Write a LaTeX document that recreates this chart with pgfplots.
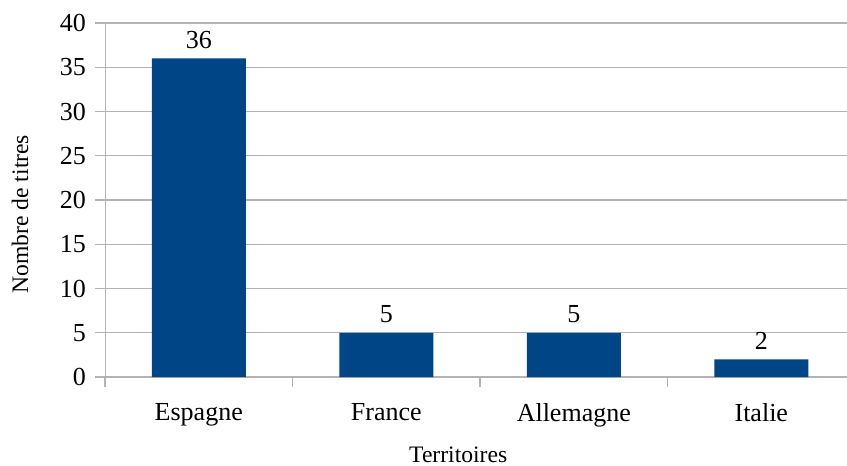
\documentclass[border=0pt]{standalone}
\usepackage{fontspec}
\setmainfont{Liberation Serif}
\usepackage{pgfplots}
\pgfplotsset{compat=1.18}
\definecolor{barblue}{HTML}{004586}
\definecolor{gridgray}{HTML}{B3B3B3}

\begin{document}
\begin{tikzpicture}
\begin{axis}[
    name=ax,
    at={(0,0)}, anchor=south west,
    scale only axis,
    width=371pt, height=177pt,
    xmin=-0.5, xmax=3.457,
    ymin=0, ymax=40,
    ytick={0,5,...,40},
    xtick={0,1,2,3},
    xticklabels={Espagne,France,Allemagne,Italie},
    minor xtick={-0.5,0.5,1.5,2.5},
    axis lines=left,
    axis line style={gridgray, -},
    ymajorgrids,
    grid style={gridgray, line width=0.6pt},
    major tick length=5pt, minor tick length=5pt,
    tick align=outside,
    tick style={gridgray, line width=0.6pt},
    xtick style={draw=none},
    minor x tick style={draw=gridgray},
    ticklabel style={font=\fontsize{13}{15}\selectfont},
    xticklabel style={yshift=-4.5pt},
    yticklabel style={xshift=-1pt},
    /pgf/number format/assume math mode=true,
    xlabel={Territoires},
    ylabel={Nombre de titres},
    label style={font=\fontsize{11.8}{14}\selectfont},
    xlabel style={at={(axis description cs:0.476,0)}, anchor=center, yshift=-39pt},
    ylabel style={at={(axis description cs:-0.1146,0.46)}, anchor=center},
    ybar, bar width=47pt,
    nodes near coords,
    nodes near coords style={font=\fontsize{13}{15}\selectfont, black, yshift=1.5pt},
]
\addplot[fill=barblue, draw=none] coordinates {(0,36) (1,5) (2,5) (3,2)};
\end{axis}
\pgfresetboundingbox
\path ([shift={(-52.5pt,-44.5pt)}]ax.south west) rectangle ([shift={(0pt,11.5pt)}]ax.north east);
\end{tikzpicture}
\end{document}
